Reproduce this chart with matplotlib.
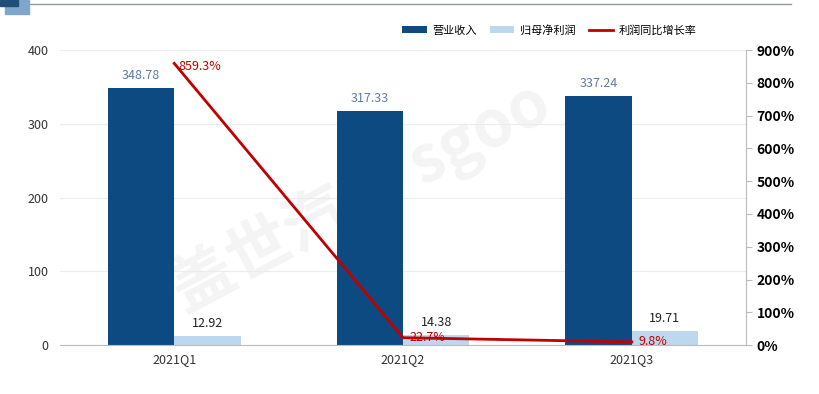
import matplotlib.pyplot as plt
import matplotlib.patches as mpatches
import numpy as np

plt.rcParams['font.family'] = ['Noto Sans CJK SC', 'DejaVu Sans']

# 数据
quarters = ["2021Q1", "2021Q2", "2021Q3"]
revenue = [348.78, 317.33, 337.24]      # 营业收入
net_profit = [12.92, 14.38, 19.71]      # 归母净利润
growth = [859.3, 22.7, 9.8]             # 利润同比增长率 (%)

dark = "#0e4a82"
light = "#bdd7ee"
red = "#c00000"

fig = plt.figure(figsize=(8.2, 3.94), dpi=100)
ax = fig.add_axes([0.073, 0.124, 0.837, 0.749])
ax.patch.set_visible(False)
ax2 = ax.twinx()

# 水印
fig.text(0.44, 0.5, "盖世汽车 sgoo", fontsize=46, color="#f4f4f4", rotation=28,
         ha="center", va="center", zorder=-1, fontweight="bold")

x = np.arange(len(quarters))
w = 0.29
b1 = ax.bar(x - w / 2, revenue, w, color=dark, label="营业收入", zorder=2)
b2 = ax.bar(x + w / 2, net_profit, w, color=light, label="归母净利润", zorder=2)

for xi, v in zip(x, revenue):
    ax.text(xi - w / 2, v + 8, f"{v:.2f}", ha="center", va="bottom", fontsize=9, color="#5a7ca8")
for xi, v in zip(x, net_profit):
    ax.text(xi + w / 2, v + 8, f"{v:.2f}", ha="center", va="bottom", fontsize=9, color="#222222")

ln, = ax2.plot(x, growth, color=red, lw=2, label="利润同比增长率", zorder=3)
ax2.text(x[0] + 0.02, growth[0] - 10, f"{growth[0]}%", ha="left", va="center", fontsize=9, color=red)
ax2.text(x[1] + 0.03, growth[1], f"{growth[1]}%", ha="left", va="center", fontsize=9, color=red)
ax2.text(x[2] + 0.03, growth[2], f"{growth[2]}%", ha="left", va="center", fontsize=9, color=red)

ax.set_xlim(-0.5, 2.5)
ax.set_ylim(0, 400)
ax.set_yticks([0, 100, 200, 300, 400])
ax.set_xticks(x)
ax.set_xticklabels(quarters, fontsize=9, color="#333333")
ax.tick_params(axis="y", labelsize=9, length=0, colors="#333333", pad=8)
ax.tick_params(axis="x", length=0, pad=6)
ax.grid(axis="y", color="#ececec", lw=0.8, zorder=0)
ax.set_axisbelow(True)

ax2.set_ylim(0, 900)
ax2.set_yticks(range(0, 901, 100))
ax2.set_yticklabels([f"{v}%" for v in range(0, 901, 100)], fontsize=10, fontweight="bold")
ax2.tick_params(axis="y", length=4, color="#bbbbbb", width=0.8)

for s in ["top", "left"]:
    ax.spines[s].set_visible(False)
    ax2.spines[s].set_visible(False)
ax.spines["right"].set_visible(False)
ax.spines["bottom"].set_color("#bbbbbb")
ax2.spines["bottom"].set_visible(False)
ax2.spines["right"].set_color("#bbbbbb")

# 图例
fig.legend(handles=[b1, b2, ln], loc="center", bbox_to_anchor=(0.67, 0.923), ncol=3,
           frameon=False, fontsize=8, handlelength=2.2, handleheight=0.6,
           columnspacing=1.2, handletextpad=0.5)

# 顶部装饰
fig.patches.append(mpatches.Rectangle((0.006, 0.965), 0.029, 0.035, transform=fig.transFigure,
                                      color="#7fa7cc", zorder=5))
fig.patches.append(mpatches.Rectangle((0.0, 0.985), 0.022, 0.015, transform=fig.transFigure,
                                      color="#1f4e79", zorder=6))
fig.lines.append(plt.Line2D([0.035, 0.965], [0.99, 0.99], transform=fig.transFigure,
                            color="#8c9aa6", lw=1))

fig.savefig("out.png", dpi=100)
